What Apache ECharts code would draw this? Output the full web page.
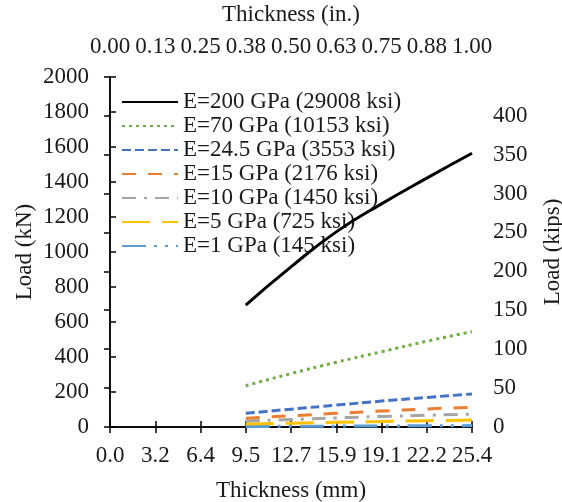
<!doctype html>
<html>
<head>
  <meta charset="utf-8">
  <title>index</title>
  <script src="https://cdn.jsdelivr.net/npm/echarts@6/dist/echarts.min.js"></script>
  <style>
    html, body { margin: 0; padding: 0; background: #fff; }
    #main { width: 562px; height: 502px; }
  </style>
</head>
<body>
  <div id="main"></div>
  <script>
    // thickness in mm (3/8 in. ... 1 in.)
    var thickness = [9.525, 12.7, 15.875, 19.05, 22.225, 25.4];
    var mmLabels = ['0.0', '3.2', '6.4', '9.5', '12.7', '15.9', '19.1', '22.2', '25.4'];
    var names = [
      'E=200 GPa (29008 ksi)',
      'E=70 GPa (10153 ksi)',
      'E=24.5 GPa (3553 ksi)',
      'E=15 GPa (2176 ksi)',
      'E=10 GPa (1450 ksi)',
      'E=5 GPa (725 ksi)',
      'E=1 GPa (145 ksi)'
    ];
    // load in kN
    var e200 = [697, 915, 1115, 1275, 1422, 1564];
    var e70 = [236, 305, 370, 430, 490, 545];
    var e245 = [78, 102, 125, 148, 169, 189];
    var e15 = [50, 64, 78, 91, 103, 113];
    var e10 = [34, 43, 52, 60, 67, 73];
    var e5 = [17, 22, 27, 31, 36, 40];
    var e1 = [3, 4, 5, 6, 7, 8];
    var zero = [0, 0, 0, 0, 0, 0];

    var colors = ['#000000', '#70AD47', '#4472C4', '#ED7D31', '#A5A5A5', '#FFC000', '#5B9BD5'];
    var dashes = ['solid', [3, 4], [9, 4], [14, 12], [14, 8, 3, 8], [28, 12], [24, 8, 3, 8, 3, 8]];
    var allData = [e200, e70, e245, e15, e10, e5, e1];

    function pairs(arr) {
      return thickness.map(function (t, i) { return [t, arr[i]]; });
    }

    var font = 'Liberation Serif';
    var fs = 23;
    var txt = { fontFamily: font, fontSize: fs, color: '#1a1a1a' };
    var axLine = { show: true, lineStyle: { color: '#000', width: 1.5 } };
    var ticks = { show: true, inside: true, length: 6, lineStyle: { color: '#000', width: 1.5 } };

    var series = allData.map(function (d, i) {
      return {
        name: names[i],
        type: 'line',
        data: pairs(d),
        smooth: true,
        symbol: 'none',
        lineStyle: { color: colors[i], width: 3, type: dashes[i] },
        itemStyle: { color: colors[i] },
        z: 10 - i
      };
    });
    series.push({
      name: 'zero',
      type: 'line',
      data: pairs(zero),
      symbol: 'none',
      lineStyle: { color: '#000', width: 2, type: [8, 5] },
      z: 1
    });

    var chart = echarts.init(document.getElementById('main'));
    chart.setOption({
      animation: false,
      grid: { left: 110, right: 90, top: 77, bottom: 75, outerBoundsMode: 'none', containLabel: false },
      legend: {
        data: names,
        orient: 'vertical',
        left: 121,
        top: 90,
        padding: 0,
        itemWidth: 56,
        itemHeight: 10,
        itemGap: 0,
        itemStyle: { opacity: 0 },
        textStyle: { fontFamily: font, fontSize: fs, color: '#1a1a1a', lineHeight: 24 }
      },
      xAxis: [
        {
          type: 'value',
          position: 'bottom',
          min: 0,
          max: 25.4,
          interval: 3.175,
          name: 'Thickness (mm)',
          nameLocation: 'middle',
          nameGap: 52,
          nameTextStyle: txt,
          axisLine: axLine,
          axisTick: ticks,
          splitLine: { show: false },
          axisLabel: {
            fontFamily: font, fontSize: fs, color: '#1a1a1a', margin: 17,
            formatter: function (v) { return mmLabels[Math.round(v / 3.175)] || ''; }
          }
        },
        {
          type: 'value',
          position: 'top',
          min: 0,
          max: 1,
          interval: 0.125,
          name: 'Thickness (in.)',
          nameLocation: 'middle',
          nameGap: 51,
          nameTextStyle: txt,
          axisLine: axLine,
          axisTick: ticks,
          splitLine: { show: false },
          axisLabel: {
            fontFamily: font, fontSize: fs, color: '#1a1a1a', margin: 19,
            formatter: function (v) { return v.toFixed(2); }
          }
        }
      ],
      yAxis: [
        {
          type: 'value',
          position: 'left',
          min: 0,
          max: 2000,
          interval: 200,
          name: 'Load (kN)',
          nameLocation: 'middle',
          nameGap: 74,
          nameMoveOverlap: false,
          nameTextStyle: txt,
          axisLine: axLine,
          axisTick: ticks,
          splitLine: { show: false },
          axisLabel: {
            fontFamily: font, fontSize: fs, color: '#1a1a1a', margin: 21,
            formatter: function (v) { return String(v); }
          }
        },
        {
          type: 'value',
          position: 'right',
          min: 0,
          max: 2000 / 4.448222,
          interval: 50,
          name: 'Load (kips)',
          nameLocation: 'middle',
          nameGap: 69,
          nameTextStyle: txt,
          axisLine: axLine,
          axisTick: ticks,
          splitLine: { show: false },
          axisLabel: {
            fontFamily: font, fontSize: fs, color: '#1a1a1a', margin: 21,
            formatter: function (v) {
              return Math.abs(v / 50 - Math.round(v / 50)) < 1e-6 ? String(Math.round(v)) : '';
            }
          }
        }
      ],
      series: series
    });
  </script>
</body>
</html>
